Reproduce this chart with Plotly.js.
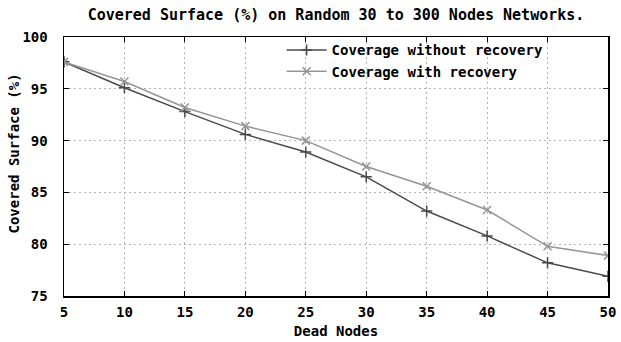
<!DOCTYPE html>
<html>
<head>
<meta charset="utf-8">
<script src="https://cdn.plot.ly/plotly-3.0.1.min.js"></script>
<style>html,body{margin:0;padding:0;background:#fff;}#chart{width:621px;height:342px;}</style>
</head>
<body>
<div id="chart"></div>
<script>
const deadNodes = [5, 10, 15, 20, 25, 30, 35, 40, 45, 50];
const coverageWithout = [97.6, 95.1, 92.8, 90.6, 88.9, 86.5, 83.2, 80.8, 78.2, 76.9];
const coverageWith = [97.6, 95.7, 93.2, 91.4, 90.0, 87.5, 85.6, 83.3, 79.8, 78.9];
const xTicks = [5, 10, 15, 20, 25, 30, 35, 40, 45, 50];
const yTicks = [75, 80, 85, 90, 95, 100];
const seriesNames = ['Coverage without recovery', 'Coverage with recovery'];

const FONT = 'DejaVu Sans Mono, Liberation Mono, monospace';

const traces = [
  {
    x: deadNodes, y: coverageWithout, name: seriesNames[0], type: 'scatter', mode: 'lines+markers',
    line: {color: '#4a4a4a', width: 1.5},
    marker: {symbol: 'cross-thin-open', size: 8, line: {color: '#4a4a4a', width: 1.5}}
  },
  {
    x: deadNodes, y: coverageWith, name: seriesNames[1], type: 'scatter', mode: 'lines+markers',
    line: {color: '#959595', width: 1.5},
    marker: {symbol: 'x-thin-open', size: 8, line: {color: '#959595', width: 1.5}}
  }
];

const layout = {
  width: 621, height: 342,
  margin: {l: 64, r: 13, t: 37, b: 46},
  paper_bgcolor: '#fff', plot_bgcolor: '#fff',
  font: {family: FONT, size: 14, color: '#000', weight: 'bold'},
  title: {text: 'Covered Surface (%) on Random 30 to 300 Nodes Networks.',
          font: {family: FONT, size: 15, color: '#000', weight: 'bold'},
          x: 0.5, xref: 'paper', y: 0.958, yref: 'container', xanchor: 'center', yanchor: 'middle'},
  xaxis: {
    range: [5, 50], tickvals: xTicks, ticktext: xTicks.map(String),
    showline: true, linecolor: '#000', linewidth: 1.5, mirror: 'ticks',
    ticks: 'inside', ticklen: 5, tickcolor: '#000',
    showgrid: true, gridcolor: '#b4b4b4', griddash: '2px,3px', gridwidth: 1,
    zeroline: false, ticklabelstandoff: 3,
    tickfont: {family: FONT, size: 14, color: '#000', weight: 'bold'},
    title: {text: 'Dead Nodes', font: {family: FONT, size: 14, color: '#000', weight: 'bold'}, standoff: 7}
  },
  yaxis: {
    range: [75, 100], tickvals: yTicks, ticktext: yTicks.map(String),
    showline: true, linecolor: '#000', linewidth: 1.5, mirror: 'ticks',
    ticks: 'inside', ticklen: 5, tickcolor: '#000',
    showgrid: true, gridcolor: '#b4b4b4', griddash: '2px,3px', gridwidth: 1,
    zeroline: false, ticklabelstandoff: 12,
    tickfont: {family: FONT, size: 14, color: '#000', weight: 'bold'},
    title: {text: ''}
  },
  annotations: [{
    text: 'Covered Surface (%)', textangle: -90,
    xref: 'paper', yref: 'paper', x: -0.092, y: 0.55, xanchor: 'center', yanchor: 'middle',
    showarrow: false, font: {family: FONT, size: 14, color: '#000', weight: 'bold'}
  }],
  showlegend: true,
  legend: {
    x: 0.40, y: 1.01, xanchor: 'left', yanchor: 'top',
    bgcolor: 'rgba(255,255,255,0)', borderwidth: 0,
    font: {family: FONT, size: 14, color: '#000', weight: 'bold'},
    tracegroupgap: 0, itemwidth: 40
  }
};

Plotly.newPlot('chart', traces, layout, {displayModeBar: false, staticPlot: true});
</script>
</body>
</html>
